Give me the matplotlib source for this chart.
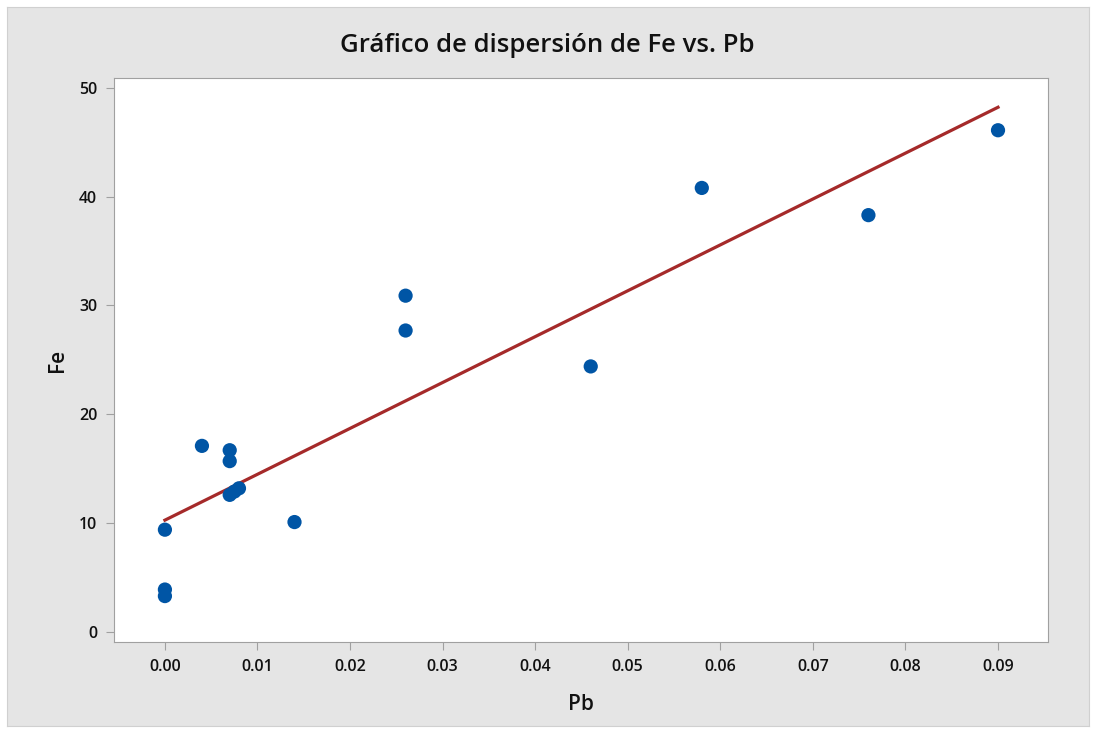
import numpy as np
import matplotlib
matplotlib.use("Agg")
import matplotlib.pyplot as plt

plt.rcParams['font.family'] = ['Open Sans', 'DejaVu Sans']

pb = [0.0, 0.0, 0.0, 0.004, 0.007, 0.007, 0.007, 0.0075, 0.008, 0.014,
      0.026, 0.026, 0.046, 0.058, 0.076, 0.090]
fe = [9.4, 3.9, 3.3, 17.1, 16.7, 15.7, 12.6, 12.9, 13.2, 10.1,
      30.9, 27.7, 24.4, 40.8, 38.3, 46.1]
xticks = [0.00, 0.01, 0.02, 0.03, 0.04, 0.05, 0.06, 0.07, 0.08, 0.09]
yticks = [0, 10, 20, 30, 40, 50]

slope, intercept = np.polyfit(pb, fe, 1)

fig = plt.figure(figsize=(10.94, 7.32), dpi=100, facecolor='white')
bg = fig.add_axes([0.006, 0.008, 0.989, 0.982])
bg.set_facecolor('#e5e5e5')
bg.set_xticks([]); bg.set_yticks([])
for s in bg.spines.values():
    s.set_color('#d0d0d0')
bg.set_zorder(-1)

ax = fig.add_axes([114/1094, 1 - 642/732, (1048-114)/1094, (642-78)/732])
ax.set_facecolor('white')
xl = np.array([0.0, 0.09])
ax.plot(xl, intercept + slope * xl, color='#a52a2a', lw=2.3, zorder=2)
ax.scatter(pb, fe, s=105, color='#0055a5', zorder=3, edgecolors='none')

ax.set_xlim(-0.0055, 0.0954)
ax.set_ylim(-0.92, 50.9)
ax.set_xticks(xticks)
ax.set_xticklabels([f'{v:.2f}' for v in xticks])
ax.set_yticks(yticks)
for s in ax.spines.values():
    s.set_color('#a0a0a0')
ax.tick_params(direction='out', length=6, color='#a0a0a0', labelsize=11.5, labelcolor='#111111', pad=6)
for lab in ax.get_xticklabels() + ax.get_yticklabels():
    lab.set_fontweight('semibold')
ax.set_xlabel('Pb', fontsize=15, color='#111111', labelpad=14, fontweight='semibold')
ax.set_ylabel('Fe', fontsize=15, color='#111111', labelpad=8, fontweight='semibold')
fig.text(0.5, 1 - 45/732, 'Gráfico de dispersión de Fe vs. Pb', ha='center', va='center',
         fontsize=18.5, color='#111111', fontweight='semibold')

fig.savefig('out.png', dpi=100, facecolor='white')
